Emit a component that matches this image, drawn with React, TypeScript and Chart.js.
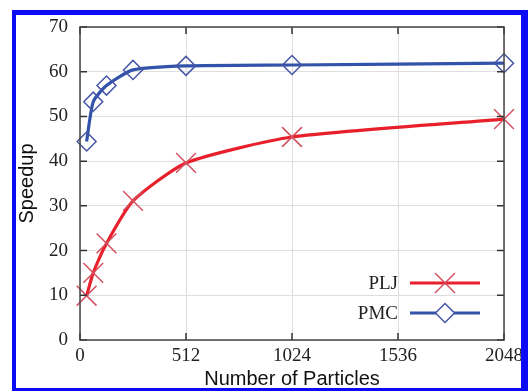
import React, { useEffect, useRef } from "react";
import { Chart, registerables } from "chart.js";

Chart.register(...registerables);

const particles = [32, 64, 128, 256, 512, 1024, 2048];
const pljSpeedup = [9.9, 15.0, 21.6, 31.1, 39.6, 45.4, 49.4];
const pmcSpeedup = [44.4, 53.3, 56.9, 60.4, 61.3, 61.5, 61.9];
const seriesNames = ["PLJ", "PMC"];
const xTicks = [0, 512, 1024, 1536, 2048];
const yTicks = [0, 10, 20, 30, 40, 50, 60, 70];

const RED_LINE = "#e8202c";
const RED_MARK = "#d4505e";
const BLUE_LINE = "#3352aa";
const BLUE_MARK = "#4656a6";
const SERIF = "'Liberation Serif', 'DejaVu Serif', serif";
const SANS = "'Liberation Sans', Arial, sans-serif";

const framePlugin = {
  id: "framePlugin",
  afterDatasetsDraw(chart: any) {
    const { ctx, chartArea, scales } = chart;
    const { left, right, top, bottom } = chartArea;
    ctx.save();
    ctx.strokeStyle = "#333";
    ctx.lineWidth = 1.5;
    const tl = 7;
    ctx.beginPath();
    for (const v of xTicks) {
      const px = scales.x.getPixelForValue(v);
      ctx.moveTo(px, bottom);
      ctx.lineTo(px, bottom - tl);
      ctx.moveTo(px, top);
      ctx.lineTo(px, top + tl);
    }
    for (const v of yTicks) {
      const py = scales.y.getPixelForValue(v);
      ctx.moveTo(left, py);
      ctx.lineTo(left + tl, py);
      ctx.moveTo(right, py);
      ctx.lineTo(right - tl, py);
    }
    ctx.stroke();
    ctx.strokeStyle = "#444";
    ctx.lineWidth = 1.5;
    ctx.strokeRect(left, top, right - left, bottom - top);

    const entries = [
      { name: seriesNames[0], line: RED_LINE, mark: RED_MARK, style: "cross", y: bottom - 57 },
      { name: seriesNames[1], line: BLUE_LINE, mark: BLUE_MARK, style: "diamond", y: bottom - 27 },
    ];
    const lx0 = right - 94;
    const lx1 = right - 24;
    const mx = (lx0 + lx1) / 2;
    ctx.font = `19px ${SERIF}`;
    ctx.textAlign = "right";
    ctx.textBaseline = "middle";
    for (const e of entries) {
      ctx.fillStyle = "#222";
      ctx.fillText(e.name, lx0 - 12, e.y + 1);
      ctx.strokeStyle = e.line;
      ctx.lineWidth = 3.2;
      ctx.beginPath();
      ctx.moveTo(lx0, e.y);
      ctx.lineTo(lx1, e.y);
      ctx.stroke();
      ctx.strokeStyle = e.mark;
      ctx.lineWidth = 1.5;
      ctx.beginPath();
      if (e.style === "cross") {
        const d = 10;
        ctx.moveTo(mx - d, e.y - d);
        ctx.lineTo(mx + d, e.y + d);
        ctx.moveTo(mx - d, e.y + d);
        ctx.lineTo(mx + d, e.y - d);
        ctx.stroke();
      } else {
        const d = 9.5;
        ctx.moveTo(mx, e.y - d);
        ctx.lineTo(mx + d, e.y);
        ctx.lineTo(mx, e.y + d);
        ctx.lineTo(mx - d, e.y);
        ctx.closePath();
        ctx.fillStyle = "#fff";
        ctx.fill();
        ctx.stroke();
      }
    }
    ctx.restore();
  },
  afterDraw(chart: any) {
    const { ctx, width, height } = chart;
    ctx.save();
    ctx.fillStyle = "#0a0af5";
    ctx.fillRect(12, 10, width - 12, 5);
    ctx.fillRect(12, 10, 4, height - 10);
    ctx.fillRect(521, 10, width - 521, height - 10);
    ctx.fillRect(12, 388, width - 12, height - 388);
    ctx.restore();
  },
};

export default function App() {
  const ref = useRef<HTMLCanvasElement | null>(null);
  useEffect(() => {
    if (!ref.current) return;
    const chart = new Chart(ref.current, {
      type: "line",
      data: {
        datasets: [
          {
            label: seriesNames[0],
            data: particles.map((x, i) => ({ x, y: pljSpeedup[i] })),
            borderColor: RED_LINE,
            borderWidth: 3.2,
            pointStyle: "crossRot",
            pointRadius: 14,
            pointBorderColor: RED_MARK,
            pointBorderWidth: 1.5,
            pointBackgroundColor: "rgba(0,0,0,0)",
            tension: 0.2,
            fill: false,
            clip: false as any,
          },
          {
            label: seriesNames[1],
            data: particles.map((x, i) => ({ x, y: pmcSpeedup[i] })),
            borderColor: BLUE_LINE,
            borderWidth: 3.2,
            pointStyle: "rectRot",
            pointRadius: 9.5,
            pointBorderColor: BLUE_MARK,
            pointBorderWidth: 1.5,
            pointBackgroundColor: "rgba(0,0,0,0)",
            tension: 0.2,
            fill: false,
            clip: false as any,
          },
        ],
      },
      options: {
        animation: false,
        responsive: false,
        devicePixelRatio: 1,
        layout: { padding: { left: 0, right: 24, top: 27, bottom: 0 } },
        plugins: { legend: { display: false }, tooltip: { enabled: false } },
        scales: {
          x: {
            type: "linear",
            min: 0,
            max: 2048,
            afterBuildTicks: (s: any) => {
              s.ticks = xTicks.map((v) => ({ value: v }));
            },
            afterFit: (s: any) => {
              s.height = 51;
            },
            ticks: {
              color: "#222",
              font: { family: SERIF, size: 19 },
              padding: 5,
              maxRotation: 0,
              autoSkip: false,
              callback: (v: any) => String(v),
            },
            grid: { color: "#dedede", lineWidth: 1, drawTicks: false },
            border: { display: false },
            title: {
              display: true,
              text: "Number of Particles",
              color: "#111",
              font: { family: SANS, size: 20 },
              padding: { top: 0, bottom: 0 },
            },
          },
          y: {
            type: "linear",
            min: 0,
            max: 70,
            afterBuildTicks: (s: any) => {
              s.ticks = yTicks.map((v) => ({ value: v }));
            },
            afterFit: (s: any) => {
              s.width = 80;
            },
            ticks: {
              color: "#222",
              font: { family: SERIF, size: 19 },
              padding: 12,
              callback: (v: any) => String(v),
            },
            grid: { color: "#dedede", lineWidth: 1, drawTicks: false },
            border: { display: false },
            title: {
              display: true,
              text: "Speedup",
              color: "#111",
              font: { family: SANS, size: 20 },
              padding: { top: 15, bottom: 0 },
            },
          },
        },
      },
      plugins: [framePlugin],
    });
    return () => chart.destroy();
  }, []);
  return (
    <canvas
      ref={ref}
      width={528}
      height={391}
      style={{ position: "absolute", left: 0, top: 0, width: 528, height: 391, background: "#fff" }}
    />
  );
}
